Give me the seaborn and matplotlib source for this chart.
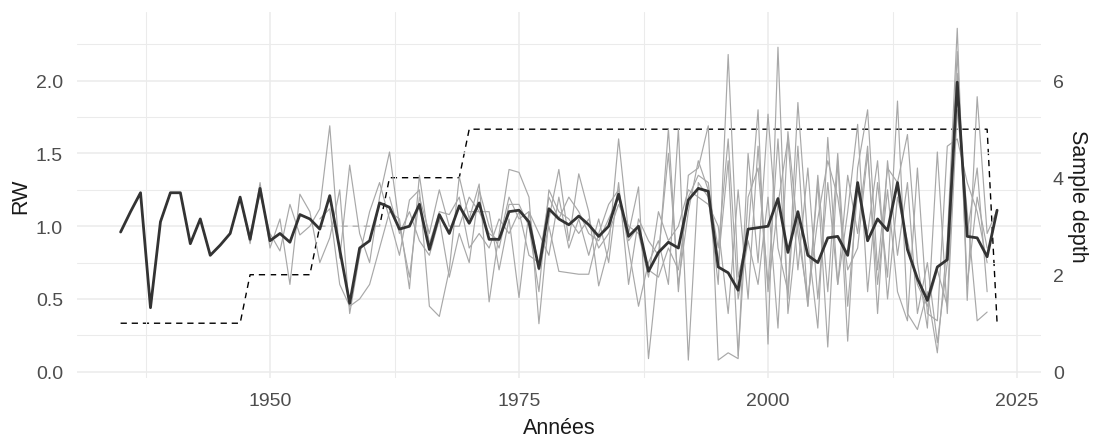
import numpy as np
import pandas as pd
import matplotlib
matplotlib.use("Agg")
import matplotlib.pyplot as plt
import seaborn as sns
from matplotlib.ticker import MultipleLocator, FormatStrFormatter

# ---------------- data ----------------
years = list(range(1935, 2024))

mean_rw = [
    0.96, 1.10, 1.23, 0.44, 1.03, 1.23, 1.23, 0.88, 1.05, 0.80,   # 1935-1944
    0.87, 0.95, 1.20, 0.91, 1.26, 0.90, 0.95, 0.89, 1.08, 1.05,   # 1945-1954
    0.98, 1.21, 0.84, 0.47, 0.85, 0.90, 1.16, 1.13, 0.98, 1.00,   # 1955-1964
    1.15, 0.84, 1.08, 0.95, 1.14, 1.02, 1.16, 0.91, 0.91, 1.10,   # 1965-1974
    1.11, 1.03, 0.71, 1.12, 1.05, 1.01, 1.07, 1.01, 0.93, 1.00,   # 1975-1984
    1.22, 0.93, 1.00, 0.69, 0.82, 0.89, 0.85, 1.18, 1.26, 1.24,   # 1985-1994
    0.72, 0.68, 0.56, 0.98, 0.99, 1.00, 1.19, 0.82, 1.10, 0.80,   # 1995-2004
    0.75, 0.92, 0.93, 0.80, 1.30, 0.90, 1.05, 0.97, 1.30, 0.84,   # 2005-2014
    0.64, 0.49, 0.72, 0.77, 1.99, 0.93, 0.92, 0.79, 1.11,         # 2015-2023
]

sample_depth = [
    1, 1, 1, 1, 1, 1, 1, 1, 1, 1,   # 1935-1944
    1, 1, 1, 2, 2, 2, 2, 2, 2, 2,   # 1945-1954
    3, 3, 3, 3, 3, 3, 3, 4, 4, 4,   # 1955-1964
    4, 4, 4, 4, 4, 5, 5, 5, 5, 5,   # 1965-1974
    5, 5, 5, 5, 5, 5, 5, 5, 5, 5,   # 1975-1984
    5, 5, 5, 5, 5, 5, 5, 5, 5, 5,   # 1985-1994
    5, 5, 5, 5, 5, 5, 5, 5, 5, 5,   # 1995-2004
    5, 5, 5, 5, 5, 5, 5, 5, 5, 5,   # 2005-2014
    5, 5, 5, 5, 5, 5, 5, 5, 1,      # 2015-2023
]

series_a_start = 1935
series_a = [
    0.96, 1.10, 1.23, 0.44, 1.03, 1.23, 1.23, 0.88, 1.05, 0.80,
    0.87, 0.95, 1.20, 0.88, 1.30, 0.85, 1.05, 0.60, 1.22, 1.10,
    0.75, 0.92, 1.25, 0.40, 0.80, 1.10, 1.30, 1.05, 0.80, 1.18,
    1.25, 0.45, 0.38, 0.70, 1.34, 1.05, 1.29, 0.48, 0.95, 1.39,
    1.37, 1.20, 0.33, 1.05, 1.39, 0.90, 1.36, 1.10, 0.59, 0.85,
    1.60, 0.95, 1.27, 0.09, 0.75, 1.67, 0.55, 1.35, 1.40, 1.69,
    0.08, 0.13, 0.09, 1.50, 0.75, 1.77, 0.85, 0.55, 1.85, 0.90,
    0.30, 1.61, 0.60, 1.10, 1.70, 0.55, 1.30, 0.65, 1.86, 0.40,
    0.29, 0.55, 0.13, 0.90, 2.36, 0.49, 1.89, 0.95, 1.11,
]

series_b_start = 1948
series_b = [
    0.95, 1.22, 0.95, 0.83, 1.15, 0.94, 1.00, 1.12, 1.69, 0.78,
    1.42, 0.95, 0.75, 1.20, 1.51, 1.00, 0.65, 1.20, 0.95, 1.25,
    1.00, 1.00, 1.20, 1.10, 1.10, 0.70, 1.05, 0.51, 1.10, 0.70,
    1.00, 0.69, 0.68, 0.67, 0.67, 0.95, 1.15, 1.25, 0.85, 0.45,
    0.75, 0.90, 0.60, 1.67, 0.08, 1.30, 1.20, 0.60, 2.18, 0.65,
    0.95, 1.80, 0.19, 2.23, 0.40, 1.05, 0.45, 1.30, 0.17, 1.45,
    0.21, 1.40, 1.80, 0.70, 1.40, 1.30, 1.63, 0.75, 0.30, 1.51,
    0.40, 1.80, 1.10, 0.35, 0.41,
]

series_c_start = 1955
series_c = [
    1.05, 1.12, 0.60, 0.45, 0.50, 0.60, 0.85, 1.10, 1.05, 0.57,
    1.35, 0.88, 1.10, 1.08, 1.20, 0.85, 0.95, 0.85, 1.05, 0.95,
    1.10, 0.80, 0.75, 1.20, 1.05, 1.20, 1.10, 0.95, 0.90, 1.05,
    1.20, 0.90, 1.00, 0.70, 0.65, 0.85, 0.70, 1.20, 1.35, 1.30,
    0.75, 1.45, 0.11, 1.20, 1.40, 0.60, 1.60, 0.50, 1.55, 0.45,
    1.35, 0.55, 1.50, 0.45, 1.25, 0.95, 1.45, 0.50, 1.20, 0.90,
    0.60, 0.45, 0.70, 0.45, 2.05, 0.95, 1.40, 0.55,
]

series_d_start = 1962
series_d = [
    1.20, 0.95, 1.10, 0.90, 0.80, 1.05, 0.65, 0.95, 0.75, 1.25,
    1.00, 0.85, 1.15, 1.15, 1.00, 0.55, 1.25, 1.10, 1.05, 0.95,
    1.05, 0.85, 0.95, 1.15, 1.00, 0.95, 0.65, 1.10, 0.90, 1.00,
    1.25, 1.20, 1.15, 1.00, 0.40, 1.25, 0.50, 1.55, 0.55, 1.15,
    1.60, 0.70, 1.40, 0.50, 1.30, 0.60, 1.35, 0.95, 1.55, 0.40,
    1.45, 0.80, 1.30, 0.40, 0.75, 0.20, 0.75, 2.20, 0.60, 1.20,
    0.85,
]

series_e_start = 1970
series_e = [
    1.10, 1.10, 0.95, 0.90, 1.20, 1.05, 1.10, 0.95, 0.80, 1.20,
    0.85, 1.05, 0.80, 1.05, 0.75, 1.30, 0.60, 1.05, 0.90, 0.80,
    1.50, 0.60, 1.10, 1.45, 1.25, 0.85, 1.60, 0.50, 0.90, 0.60,
    1.20, 0.30, 1.65, 0.95, 0.50, 1.05, 1.45, 1.20, 0.70, 0.85,
    1.50, 0.60, 1.25, 0.55, 0.35, 1.40, 0.40, 0.35, 1.55, 1.60,
    1.30, 1.10, 0.75,
]

x_ticks = [1950, 1975, 2000, 2025]
depth_ticks = [0, 2, 4, 6]

# ---------------- build tables ----------------
frames = []
for name, start, vals in [("A", series_a_start, series_a),
                          ("B", series_b_start, series_b),
                          ("C", series_c_start, series_c),
                          ("D", series_d_start, series_d),
                          ("E", series_e_start, series_e)]:
    frames.append(pd.DataFrame({"year": list(range(start, start + len(vals))),
                                "rw": vals, "series": name}))
long_df = pd.concat(frames, ignore_index=True)
chron = pd.DataFrame({"year": years, "rw": mean_rw, "depth": sample_depth})

# ---------------- style ----------------
sns.set_style("white")
plt.rcParams["font.family"] = ["Liberation Sans", "DejaVu Sans"]

fig = plt.figure(figsize=(10.95, 4.39), dpi=100)
ax = fig.add_axes([0.0703, 0.1367, 0.8804, 0.8330])
ax2 = ax.twinx()
ax.set_zorder(2)
ax.patch.set_visible(False)
ax2.set_zorder(1)

# gray individual series
sns.lineplot(data=long_df, x="year", y="rw", units="series", estimator=None,
             color="#a8a8a8", linewidth=0.85, ax=ax, legend=False, zorder=2)
# mean chronology
sns.lineplot(data=chron, x="year", y="rw", color="#333333", linewidth=2.0,
             ax=ax, legend=False, zorder=4)
# sample depth (secondary axis)
sns.lineplot(data=chron, x="year", y="depth", color="black", linewidth=1.0,
             ax=ax2, legend=False)
ax2.lines[0].set_dashes((4.5, 3.5))

xlim = (1930.62, 2027.41)
ylim = (-0.043, 2.47)
ax.set_xlim(xlim)
ax.set_ylim(ylim)
ax2.set_ylim(ylim[0] * 3, ylim[1] * 3)

ax.xaxis.set_major_locator(MultipleLocator(25))
ax.xaxis.set_minor_locator(MultipleLocator(12.5))
ax.yaxis.set_major_locator(MultipleLocator(0.5))
ax.yaxis.set_minor_locator(MultipleLocator(0.25))
ax.yaxis.set_major_formatter(FormatStrFormatter("%.1f"))
ax.set_xticks(x_ticks)
ax2.set_yticks(depth_ticks)

ax.grid(True, which="major", color="#ebebeb", linewidth=1.1)
ax.grid(True, which="minor", color="#ebebeb", linewidth=0.75)
ax2.grid(False)

for a in (ax, ax2):
    for s in a.spines.values():
        s.set_visible(False)

ax.tick_params(axis="both", which="both", length=0, labelsize=14,
               labelcolor="#4d4d4d")
ax.tick_params(axis="x", pad=10)
ax.tick_params(axis="y", pad=10)
ax2.tick_params(axis="y", length=0, labelsize=14, labelcolor="#4d4d4d", pad=8.5)

ax.set_xlabel("Années", fontsize=15.5, color="#1a1a1a", labelpad=6)
ax.set_ylabel("RW", fontsize=15.5, color="#1a1a1a", labelpad=3.5)
ax2.set_ylabel("Sample depth", fontsize=15.5, color="#1a1a1a", rotation=270,
               va="bottom", labelpad=2)

fig.savefig("out.png", dpi=100)
